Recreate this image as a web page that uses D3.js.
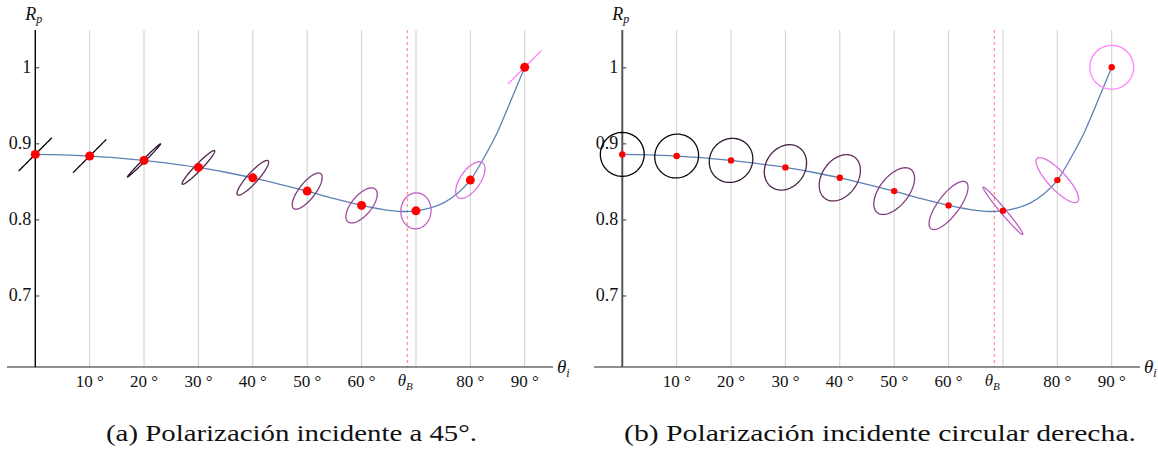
<!DOCTYPE html>
<html>
<head>
<meta charset="utf-8">
<script src="https://cdn.jsdelivr.net/npm/d3@7"></script>
<style>
  body { margin: 0; background: #fff; }
  svg { display: block; }
  .lbl { font-family: "Liberation Serif", "Times New Roman", Times, serif; fill: #111; }
  .cap { font-family: "Liberation Serif", "Times New Roman", Times, serif; fill: #111; }
</style>
</head>
<body>
<svg id="fig" width="1158" height="455"></svg>
<script>
// Incidence angles (deg) at which the reflected polarization state is shown
const angles = [0, 10, 20, 30, 40, 50, 60, 70, 80, 90];
// Rp at those angles
const rp = [0.8855, 0.8833, 0.8776, 0.8684, 0.8547, 0.8372, 0.8184, 0.8113, 0.8517, 1.0];

// Denser samples of the Rp curve
const curveAngles = [0, 5, 10, 15, 20, 25, 30, 35, 40, 45, 50, 55, 60, 65, 68, 70, 72.5, 75, 77.5, 80, 82.5, 85, 87.5, 90];
const curveRp = [0.8855, 0.8849, 0.8833, 0.8810, 0.8776, 0.8733, 0.8684, 0.8620, 0.8547, 0.8462, 0.8372, 0.8272, 0.8184, 0.8120, 0.8104, 0.8113, 0.8148, 0.8215, 0.8335, 0.8517, 0.8810, 0.9150, 0.9570, 1.0];

// Brewster angle (deg)
const brewster = 68.4;

// Axis ticks
const xGridValues = [10, 20, 30, 40, 50, 60, 70, 80, 90];
const xLabelValues = [10, 20, 30, 40, 50, 60, 80, 90];
const xLabelTexts = ["10 °", "20 °", "30 °", "40 °", "50 °", "60 °", "80 °", "90 °"];
const yTickValues = [0.7, 0.8, 0.9, 1];
const yTickTexts = ["0.7", "0.8", "0.9", "1"];

// Reflected polarization ellipse: azimuth and ellipticity angles (deg)
// (a) incident linear polarization at 45°
const azimuthA = [45, 45, 45, 46, 48, 52, 50, 85, 55, 45];
const ellipticityA = [0, 0, 3, 8, 13, 20, 25, 40, 25, 0];
// (b) incident right circular polarization
const azimuthB = [45, 45, 50, 55, 55, 52, 53, -50, -47, 45];
const ellipticityB = [45, 44, 43, 39, 35, 28, 20, -5, -17, -45];

// Ellipse colour for each angle
const ellipseColors = ["#000000", "#0c0a0c", "#2e1530", "#4a2248", "#62305f", "#7d3c7c", "#9b4a9b", "#bf62c3", "#e070e2", "#ff80ff"];

const captions = ["(a) Polarización incidente a 45°.", "(b) Polarización incidente circular derecha."];

const svg = d3.select("#fig");

const yScale = d3.scaleLinear().domain([0.606, 1.049]).range([367, 30]);

function drawPanel(cfg) {
  const x = d3.scaleLinear().domain([-5.2, 95.2]).range(cfg.xRange);
  const y = yScale;
  const g = svg.append("g");
  const x0 = x(0);

  // vertical grid lines
  g.append("g").selectAll("line").data(xGridValues).join("line")
    .attr("x1", d => x(d)).attr("x2", d => x(d))
    .attr("y1", y.range()[1]).attr("y2", y.range()[0])
    .attr("stroke", "#cfcfcf").attr("stroke-width", 1);

  // Brewster angle marker
  g.append("line")
    .attr("x1", x(brewster)).attr("x2", x(brewster))
    .attr("y1", y.range()[1]).attr("y2", y.range()[0])
    .attr("stroke", "#ff7a7a").attr("stroke-width", 1)
    .attr("stroke-dasharray", "3,3");

  // x axis line
  g.append("line")
    .attr("x1", cfg.xRange[0]).attr("x2", cfg.xRange[1])
    .attr("y1", y(0.606)).attr("y2", y(0.606))
    .attr("stroke", "#222").attr("stroke-width", 1.2);

  // y axis with ticks
  const yAxis = d3.axisRight(y).tickValues(yTickValues).tickSize(4).tickFormat("");
  const ya = g.append("g").attr("transform", `translate(${x0},0)`).call(yAxis);
  ya.select(".domain").remove();
  ya.selectAll(".tick line").attr("stroke", "#333");
  g.append("line")
    .attr("x1", x0).attr("x2", x0)
    .attr("y1", y.range()[1]).attr("y2", y.range()[0])
    .attr("stroke", cfg.yAxisColor).attr("stroke-width", cfg.yAxisWidth);

  g.append("g").selectAll("text").data(yTickValues).join("text")
    .attr("class", "lbl")
    .attr("x", x0 - 4).attr("y", d => y(d) + 6)
    .attr("text-anchor", "end")
    .style("font-size", "18px")
    .text((d, i) => yTickTexts[i]);

  // x tick labels
  g.append("g").selectAll("text").data(xLabelValues).join("text")
    .attr("class", "lbl")
    .attr("x", d => x(d)).attr("y", 387)
    .attr("text-anchor", "middle")
    .style("font-size", "17px")
    .text((d, i) => xLabelTexts[i]);

  const tb = g.append("text")
    .attr("class", "lbl")
    .attr("x", x(brewster) - 2).attr("y", 386)
    .attr("text-anchor", "middle")
    .style("font-size", "17px").style("font-style", "italic");
  tb.append("tspan").text("θ");
  tb.append("tspan").style("font-size", "11px").attr("dy", 4).text("B");

  // axis titles
  const ti = g.append("text")
    .attr("class", "lbl")
    .attr("x", cfg.xRange[1] + 4).attr("y", 373)
    .style("font-size", "19px").style("font-style", "italic");
  ti.append("tspan").text("θ");
  ti.append("tspan").style("font-size", "12px").attr("dy", 4).text("i");

  const tr = g.append("text")
    .attr("class", "lbl")
    .attr("x", x0 - 10).attr("y", 20)
    .style("font-size", "18px").style("font-style", "italic");
  tr.append("tspan").text("R");
  tr.append("tspan").style("font-size", "12px").attr("dy", 3).text("p");

  // Rp curve
  const line = d3.line().x(d => x(d[0])).y(d => y(d[1])).curve(d3.curveMonotoneX);
  g.append("path")
    .datum(curveAngles.map((a, i) => [a, curveRp[i]]))
    .attr("d", line)
    .attr("fill", "none").attr("stroke", "#5e81b5").attr("stroke-width", 1.3);

  // polarization ellipses
  const ts = d3.range(0, 2 * Math.PI + 0.001, Math.PI / 60);
  const ell = d3.line();
  g.append("g").selectAll("path").data(angles).join("path")
    .attr("d", (d, i) => {
      const psi = cfg.azimuth[i] * Math.PI / 180;
      const chi = cfg.ellipticity[i] * Math.PI / 180;
      const a = cfg.size * Math.cos(chi), b = cfg.size * Math.abs(Math.sin(chi));
      const cx = x(d), cy = y(rp[i]);
      return ell(ts.map(t => {
        const u = a * Math.cos(t), v = b * Math.sin(t);
        return [cx + u * Math.cos(psi) - v * Math.sin(psi), cy - (u * Math.sin(psi) + v * Math.cos(psi))];
      }));
    })
    .attr("fill", "none")
    .attr("stroke", (d, i) => ellipseColors[i])
    .attr("stroke-width", 1.3);

  // Rp markers
  g.append("g").selectAll("circle").data(angles).join("circle")
    .attr("cx", d => x(d)).attr("cy", (d, i) => y(rp[i]))
    .attr("r", cfg.dotRadius).attr("fill", "#ff0000");

  // caption, stretched to its column width
  svg.append("text")
    .attr("class", "cap")
    .attr("x", cfg.captionCenter - cfg.captionWidth / 2).attr("y", 441)
    .style("font-size", "24px")
    .attr("textLength", cfg.captionWidth).attr("lengthAdjust", "spacingAndGlyphs")
    .text(cfg.caption);
}

drawPanel({
  xRange: [7, 553], azimuth: azimuthA, ellipticity: ellipticityA, size: 23.5,
  dotRadius: 4.5, yAxisColor: "#000", yAxisWidth: 1.4,
  caption: captions[0], captionCenter: 291.5, captionWidth: 371
});
drawPanel({
  xRange: [594, 1140], azimuth: azimuthB, ellipticity: ellipticityB, size: 31,
  dotRadius: 3.2, yAxisColor: "#555", yAxisWidth: 2,
  caption: captions[1], captionCenter: 880, captionWidth: 512
});
</script>
</body>
</html>
